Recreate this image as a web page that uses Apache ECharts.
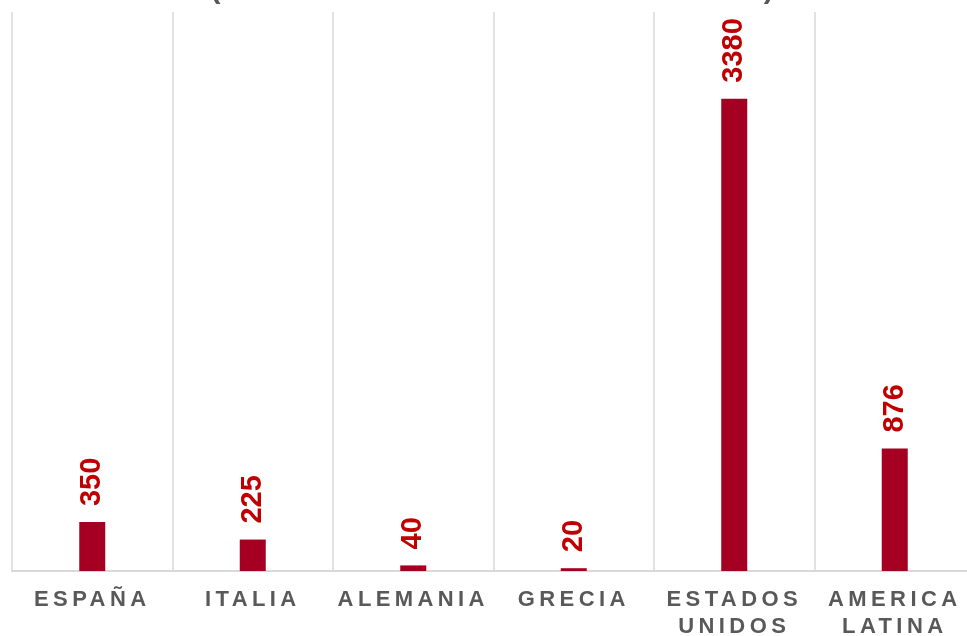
<!DOCTYPE html>
<html>
<head>
<meta charset="utf-8">
<script src="https://cdn.jsdelivr.net/npm/echarts@6/dist/echarts.min.js"></script>
<style>
html,body{margin:0;padding:0;background:#fff;overflow:hidden;}
#chart{width:967px;height:636px;}
</style>
</head>
<body>
<div id="chart"></div>
<script>
// ---- data ----
const titleText = "(EN MILLONES DE DÓLARES)";
const categories = ["ESPAÑA", "ITALIA", "ALEMANIA", "GRECIA", "ESTADOS UNIDOS", "AMERICA LATINA"];
const values = [350, 225, 40, 20, 3380, 876];

// letter spacing for category labels and title (drawn as real canvas text)
const CAT_FONT_SIZE = 22;
const CAT_SPACING = 4.4;
const TITLE_FONT_SIZE = 30;
const TITLE_SPACING = 5.8;
(function(){
  const proto = CanvasRenderingContext2D.prototype;
  const origFill = proto.fillText;
  proto.fillText = function(t, x, y, w){
    let sp = 0;
    if (this.font && this.font.indexOf(' ' + CAT_FONT_SIZE + 'px') >= 0) sp = CAT_SPACING;
    else if (this.font && this.font.indexOf(' ' + TITLE_FONT_SIZE + 'px') >= 0) sp = TITLE_SPACING;
    this.letterSpacing = sp + 'px';
    return w === undefined ? origFill.call(this, t, x, y) : origFill.call(this, t, x, y, w);
  };
})();

const chart = echarts.init(document.getElementById('chart'), null, {renderer: 'canvas'});
chart.setOption({
  animation: false,
  backgroundColor: '#ffffff',
  title: {
    text: titleText,
    left: 490,
    textAlign: 'center',
    top: -30,
    textStyle: {
      fontFamily: 'Liberation Sans, Arial, sans-serif',
      fontSize: TITLE_FONT_SIZE,
      fontWeight: 'bold',
      color: '#595959'
    }
  },
  grid: {left: 12, top: 12, width: 963, height: 559, containLabel: false, outerBoundsMode: 'none'},
  xAxis: {
    type: 'category',
    data: categories,
    boundaryGap: true,
    axisLine: {show: true, lineStyle: {color: '#d9d9d9', width: 2}},
    axisTick: {show: false},
    splitLine: {
      show: true,
      interval: (i) => i < categories.length,
      lineStyle: {color: '#d9d9d9', width: 1.5}
    },
    axisLabel: {
      interval: 0,
      margin: 15,
      fontFamily: 'Liberation Sans, Arial, sans-serif',
      fontSize: CAT_FONT_SIZE,
      fontWeight: 'bold',
      color: '#595959',
      lineHeight: 27,
      formatter: v => v.replace(' ', '\n')
    }
  },
  yAxis: {
    type: 'value',
    min: 0,
    max: 4000,
    show: false,
    splitLine: {show: false}
  },
  series: [{
    type: 'bar',
    data: values,
    barWidth: 26,
    itemStyle: {color: '#a50021'},
    label: {
      show: true,
      position: 'top',
      rotate: 90,
      align: 'left',
      verticalAlign: 'middle',
      distance: 16,
      fontFamily: 'Liberation Sans, Arial, sans-serif',
      fontSize: 29,
      fontWeight: 'bold',
      color: '#c00000'
    }
  }]
});
</script>
</body>
</html>
